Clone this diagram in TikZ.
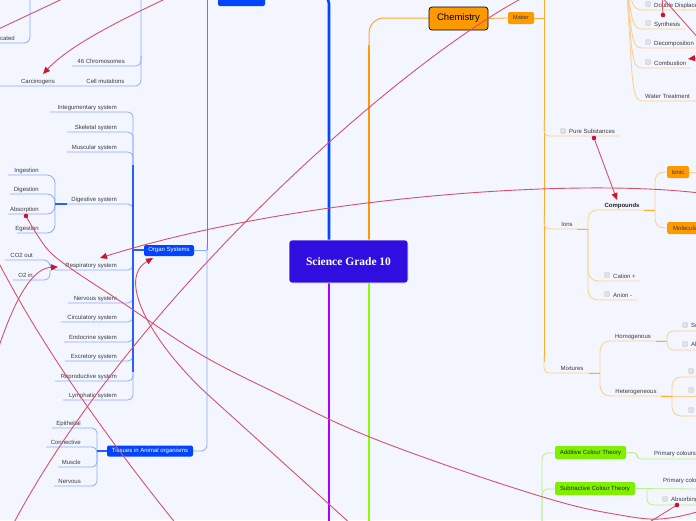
\documentclass[tikz,border=0pt]{standalone}
\usepackage{fontspec}
\setmainfont{Liberation Sans}
\newfontfamily\titlefont{Liberation Serif}
\usetikzlibrary{arrows.meta}
\definecolor{bg}{RGB}{243,246,254}
\definecolor{txt}{RGB}{60,60,60}
\definecolor{blueA}{RGB}{0,72,255}
\definecolor{blueN}{RGB}{0,68,255}
\definecolor{blueM}{RGB}{40,95,255}
\definecolor{bspine}{RGB}{85,125,255}
\definecolor{blueL}{RGB}{140,172,255}
\definecolor{orangeA}{RGB}{255,153,0}
\definecolor{orangeM}{RGB}{255,172,40}
\definecolor{orangeL}{RGB}{255,205,140}
\definecolor{greenA}{RGB}{136,255,0}
\definecolor{greenN}{RGB}{128,240,0}
\definecolor{greenL}{RGB}{185,240,135}
\definecolor{purpleA}{RGB}{170,0,255}
\definecolor{redline}{RGB}{214,82,106}
\definecolor{redtip}{RGB}{200,22,50}
\definecolor{rootfill}{RGB}{48,14,224}
\definecolor{chkfill}{RGB}{226,226,226}
\definecolor{chkdraw}{RGB}{200,200,200}
\definecolor{gtxt}{RGB}{30,45,0}
\begin{document}
\begin{tikzpicture}[x=1pt,y=-1pt,
  lbl/.style={font=\fontsize{6}{7}\selectfont, text=txt, inner sep=0pt},
  chk/.style={draw=chkdraw, fill=chkfill, minimum size=5pt, inner sep=0pt, rounded corners=1pt, line width=0.4pt},
  bnode/.style={fill=blueN, rounded corners=2pt, text=white, font=\fontsize{6}{7}\selectfont, inner sep=0pt},
  onode/.style={fill=orangeA, rounded corners=2pt, text=txt, font=\fontsize{6}{7}\selectfont, inner sep=0pt},
  gnode/.style={fill=greenN, rounded corners=2pt, text=gtxt, font=\fontsize{6}{7}\selectfont, inner sep=0pt},
  lineB/.style={draw=blueL, line width=0.8pt},
  lineO/.style={draw=orangeL, line width=0.8pt},
  lineG/.style={draw=greenL, line width=0.8pt},
  rel/.style={draw=redline, line width=0.9pt},
  reltip/.style={-{Triangle[length=7pt,width=6pt,color=redtip]}},
  reldot/.style={fill=redtip}
]
\useasboundingbox (0,0) rectangle (696,520);
\fill[bg] (0,0) rectangle (696,520);

% ---------- main trunks ----------
\draw[blueA, line width=2.6pt, rounded corners=10pt] (329,250) -- (329,-6) -- (300,-6);
\draw[orangeA, line width=2.6pt] (369,250) -- (369,45);
\draw[orangeM, line width=1pt, rounded corners=15pt] (369,50) -- (369,18) -- (429,18);
\draw[purpleA, line width=2.6pt] (329,270) -- (329,530);
\draw[greenA, line width=2.6pt] (369,270) -- (369,530);

% ---------- biology: upper left ----------
\draw[lineB, rounded corners=6pt] (30,-10) -- (30,43) -- (-5,43);
\node[lbl, anchor=base east] (cated) at (15,40) {cated};
\draw[lineB, rounded corners=6pt] (141,-10) -- (141,86) -- (-5,86);
\draw[lineB, rounded corners=5pt] (72,66) -- (141,66) -- (141,56);
\node[lbl, anchor=base east] (chromo) at (125,63) {46 Chromosomes};
\node[lbl, anchor=base] (carcin) at (38,83) {Carcinogens};
\node[lbl, anchor=base] (cellmut) at (105.5,83) {Cell mutations};

% biology spine
\draw[draw=bspine, line width=1pt] (207,-10) -- (207,250);
\draw[lineB, rounded corners=6pt] (207,245) -- (207,451) -- (193,451);
\draw[lineB] (194,250) -- (207,250);
\node[bnode, minimum width=47pt, minimum height=18pt] (bio) at (241.5,-3) {Biology};

% organ systems
\foreach \t/\y/\xl [count=\i] in {Integumentary system/112/50, Skeletal system/132/67, Muscular system/152/67, Digestive system/204/67, Respiratory system/270/60, Nervous system/303/68, Circulatory system/322/61, Endocrine system/342/64, Excretory system/361/65, Reproductive system/381/55, Lymphatic system/400/63}{
  \draw[lineB, rounded corners=5pt] (133,250) -- (133,\y) -- (\xl,\y);
  \node[lbl, anchor=base east] (os\i) at (117,\y-2.5) {\t};
}
\draw[blueM, line width=1.3pt] (133,165) -- (133,372);
\draw[blueM, line width=1.3pt] (133,250) -- (144,250);
\node[bnode, minimum width=50pt, minimum height=11pt] (organ) at (169,250.5) {Organ Systems};

% digestive children
\foreach \t/\y/\xl [count=\i] in {Ingestion/175/8, Digestion/194/10, Absorption/214/8, Egestion/233/17}{
  \draw[lineB, rounded corners=8pt] (55,204) -- (55,\y) -- (\xl,\y);
  \node[lbl, anchor=base east] (dg\i) at (39,\y-2.5) {\t};
}
\draw[blueM, line width=1.3pt] (55,204) -- (67,204);

% respiratory children
\draw[lineB, rounded corners=6pt] (60,270) -- (50,270) -- (50,260) -- (5,260);
\draw[lineB, rounded corners=6pt] (50,270) -- (50,280) -- (13,280);
\node[lbl, anchor=base east] (co2) at (33,257.5) {CO2 out};
\node[lbl, anchor=base east] (o2) at (33,277.5) {O2 in};

% tissues
\foreach \t/\y/\xl [count=\i] in {Epithelial/428/52, Connective/447/46, Muscle/467/58, Nervous/486/54}{
  \draw[lineB, rounded corners=5pt] (97,451) -- (97,\y) -- (\xl,\y);
  \node[lbl, anchor=base east] (ts\i) at (81,\y-2.5) {\t};
}
\draw[blueM, line width=1.3pt] (97,451) -- (107,451);
\node[bnode, minimum width=86pt, minimum height=11pt] (tissue) at (150,451) {Tissues in Animal organisms};

% ---------- chemistry ----------
\node[fill=orangeA, draw=black, line width=0.7pt, rounded corners=3pt, minimum width=59pt, minimum height=23pt, inner sep=0pt, font=\fontsize{9.5}{11}\selectfont, text=black] (chem) at (458.5,18.5) {Chemistry};
\node[onode, minimum width=26pt, minimum height=12pt, font=\fontsize{5.5}{6.5}\selectfont] (matter) at (521,18) {Matter};
\draw[orangeM, line width=0.8pt] (chem.east) -- (matter.west);
\draw[orangeM, line width=1pt] (matter.east) -- (544,18);
\draw[orangeM, line width=1pt] (544,-10) -- (544,362);

% reactions (upper right)
\foreach \t/\y/\xr [count=\i] in {Double Displacement/10/700, Synthesis/29/685, Decomposition/48/700, Combustion/68/691}{
  \draw[lineO] (627,-15) .. controls (632,\y-10) and (632,\y) .. (642,\y) -- (\xr,\y);
  \node[chk] (rc\i) at (648,\y-6) {};
  \node[lbl, anchor=base west] (rx\i) at (654,\y-2.5) {\t};
}
\draw[lineO] (626,-15) .. controls (633,70) and (630,101) .. (642,101) -- (700,101);
\node[lbl, anchor=base west] (water) at (645,98.5) {Water Treatment};

% pure substances, ions, mixtures
\draw[lineO, rounded corners=5pt] (544,120) -- (544,136) -- (620,136);
\node[chk] (cps) at (563,131) {};
\node[lbl, anchor=base west] (pure) at (569,133.5) {Pure Substances};

\draw[lineO, rounded corners=5pt] (544,215) -- (544,229) -- (588,229);
\draw[orangeM, line width=1pt] (577,229) -- (588,229);
\node[lbl, anchor=base] (ions) at (567,226.5) {Ions};

\draw[lineO, rounded corners=5pt] (544,355) -- (544,373) -- (600,373);
\draw[orangeM, line width=1pt] (589,373) -- (600,373);
\node[lbl, anchor=base] (mix) at (572,370.5) {Mixtures};

% ions children
\draw[lineO, rounded corners=9pt] (588,229) -- (588,210) -- (655,210);
\draw[orangeM, line width=1pt] (644,210) -- (655,210);
\node[lbl, anchor=base, font=\fontsize{6}{7}\selectfont\bfseries, text=black!85] (comp) at (622,207.5) {Compounds};
\draw[lineO, rounded corners=10pt] (588,229) -- (588,281) -- (640,281);
\node[chk] (ccat) at (607,275) {};
\node[lbl, anchor=base west] (cation) at (613,278) {Cation +};
\draw[lineO, rounded corners=10pt] (588,229) -- (588,300) -- (637,300);
\node[chk] (can) at (607,294) {};
\node[lbl, anchor=base west] (anion) at (613,297) {Anion -};

% compounds children
\draw[lineO, rounded corners=9pt] (655,210) -- (655,172) -- (667,172);
\draw[lineO, rounded corners=9pt] (655,210) -- (655,228) -- (667,228);
\node[onode, minimum width=22pt, minimum height=12pt] (ionic) at (678,172) {Ionic};
\node[onode, anchor=west, minimum width=38pt, minimum height=12pt] (molec) at (667,228) {Molecular};
\draw[lineO] (ionic.east) -- (700,172);

% mixtures children
\draw[lineO, rounded corners=10pt] (600,373) -- (600,341) -- (667,341);
\draw[orangeM, line width=1pt] (656,341) -- (667,341);
\node[lbl, anchor=base] (homo) at (633,338.5) {Homogenous};
\draw[lineO, rounded corners=10pt] (600,373) -- (600,396) -- (672,396);
\draw[orangeM, line width=1pt] (661,396) -- (672,396);
\node[lbl, anchor=base] (hetero) at (636,393.5) {Heterogeneous};

\draw[lineO, rounded corners=7pt] (667,341) -- (667,331) -- (700,331);
\draw[lineO, rounded corners=7pt] (667,341) -- (667,350) -- (700,350);
\node[chk] (cso) at (685,325) {};
\node[lbl, anchor=base west] (sol) at (691,327.5) {Solutions};
\node[chk] (cal) at (685,344) {};
\node[lbl, anchor=base west] (allo) at (691,346.5) {Alloys};

\draw[lineO, rounded corners=9pt] (672,396) -- (672,377) -- (700,377);
\draw[lineO] (672,396) -- (700,396);
\draw[lineO, rounded corners=9pt] (672,396) -- (672,416) -- (700,416);
\node[chk] (ch1) at (691,371) {};
\node[chk] (ch2) at (691,390) {};
\node[chk] (ch3) at (691,410) {};

% ---------- colour theory (green) ----------
\draw[lineG, rounded corners=6pt] (542,530) -- (542,453) -- (555,453);
\draw[lineG, rounded corners=6pt] (542,530) -- (542,489) -- (555,489);
\node[gnode, minimum width=71pt, minimum height=13pt] (add) at (590.5,452.5) {Additive Colour Theory};
\node[gnode, minimum width=80pt, minimum height=13pt] (sub) at (595,488.5) {Subtractive Colour Theory};
\draw[lineG, rounded corners=4pt] (add.east) -- (637,452.5) -- (637,459) -- (700,459);
\node[lbl, anchor=base west] (prim1) at (654,455.5) {Primary colours};
\draw[lineG] (sub.east) -- (700,489);
\draw[lineG, rounded corners=6pt] (647,489) -- (647,505) -- (700,505);
\node[lbl, anchor=base west] (prim2) at (663,482.5) {Primary colours};
\node[chk] (cab) at (665,499) {};
\node[lbl, anchor=base west] (absb) at (671,501.5) {Absorbing};

% ---------- root ----------
\node[draw=white, line width=0.6pt, fill=rootfill, rounded corners=3pt, minimum width=119pt, minimum height=43pt, inner sep=0pt, text=white, font=\titlefont\fontsize{11.5}{13}\selectfont\bfseries] (root) at (348.5,261.5) {Science Grade 10};

% ---------- relationship connectors ----------
\draw[rel] (75,-7) -- (-10,33);
\draw[rel, reltip] (180,-8) .. controls (120,20) and (70,45) .. (43,74);
\draw[rel] (530,-6) .. controls (400,60) and (120,310) .. (5,540);
\draw[rel] plot[smooth, tension=0.6] coordinates {(26,216) (36,233) (50,252) (73,270) (120,301) (200,354) (280,395) (360,433) (460,470) (560,502) (620,515) (660,519) (700,511) (720,500)};
\fill[reldot] (26,216) circle (2.3pt);
\draw[rel, reltip] (352,525) -- (205,392) .. controls (155,345) and (115,280) .. (153,258);
\draw[rel, reltip] (720,196) .. controls (600,175) and (300,195) .. (100,258);
\draw[rel, reltip] (-10,375) .. controls (15,290) and (35,268) .. (58,267);
\draw[rel] (-15,235) .. controls (30,330) and (100,430) .. (185,535);
\draw[rel, reltip] (594,138) -- (617,200);
\fill[reldot] (594,138) circle (2.3pt);
\draw[rel] (663,15) -- (662,-5);
\fill[reldot] (663,15) circle (2.3pt);
\draw[rel] (660,-5) -- (700,40);
\draw[rel, reltip] (712,56) -- (688,59);
\draw[rel] (677,505) -- (640,528);
\fill[reldot] (677,505) circle (2.3pt);
\end{tikzpicture}
\end{document}
